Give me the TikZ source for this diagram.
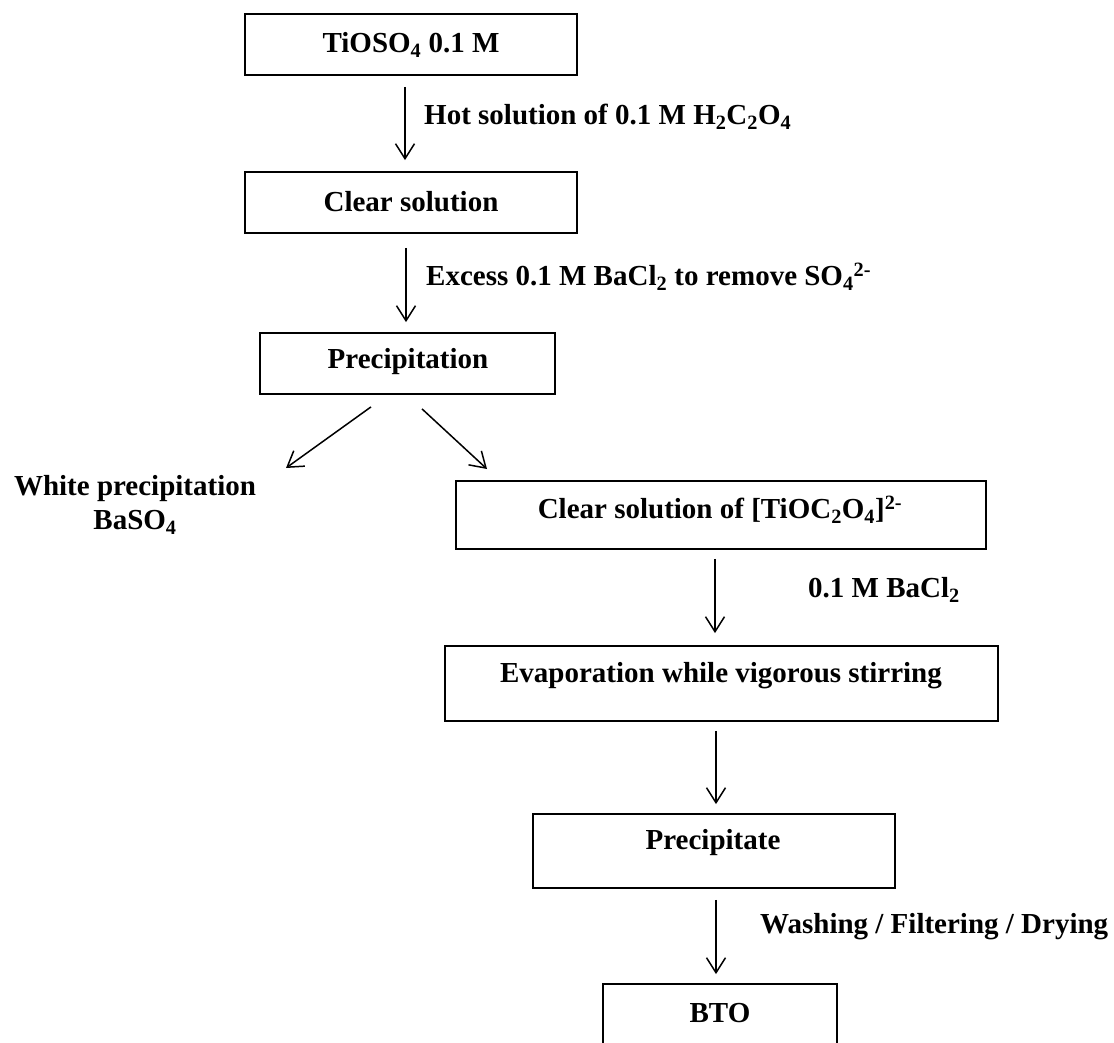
\documentclass[tikz,border=0pt]{standalone}
\usepackage{fontspec}
\setmainfont{Liberation Serif}
\usetikzlibrary{arrows.meta}
\begin{document}
\begin{tikzpicture}[x=1pt,y=-1pt,
  font=\fontsize{29}{34}\selectfont\bfseries,
  box/.style={draw, line width=1.8pt, inner sep=0pt},
  txt/.style={inner sep=0pt},
  flow/.style={line width=1.5pt, -{Straight Barb[length=15pt,width=19pt,line width=1.5pt]}}]
\useasboundingbox (0,0) rectangle (1114,1043);
\clip (0,0) rectangle (1114,1043);

% boxes
\node[box, minimum width=332, minimum height=61] (b1) at (411,44.5) {};
\node[txt] (t1) at (411,45) {TiOSO\textsubscript{4} 0.1 M};
\node[box, minimum width=332, minimum height=61] (b2) at (411,202.5) {};
\node[txt] (t2) at (411,202) {Clear solution};
\node[box, minimum width=295, minimum height=61] (b3) at (407.5,363.5) {};
\node[txt] (t3) at (408,362) {Precipitation};
\node[box, minimum width=530, minimum height=68] (b4) at (721,515) {};
\node[txt] (t4) at (720,510) {Clear solution of [TiOC\textsubscript{2}O\textsubscript{4}]\textsuperscript{2-}};
\node[box, minimum width=553, minimum height=75] (b5) at (721.5,683.5) {};
\node[txt] (t5) at (721,676) {Evaporation while vigorous stirring};
\node[box, minimum width=362, minimum height=74] (b6) at (714,851) {};
\node[txt] (t6) at (713,843) {Precipitate};
\node[box, minimum width=234, minimum height=74] (b7) at (720,1021) {};
\node[txt] (t7) at (720,1013) {BTO};

\node[txt, align=center] (wp) at (135,505) {White precipitation\\BaSO\textsubscript{4}};

% labels
\node[txt, anchor=west] (l1) at (424,117) {Hot solution of 0.1 M H\textsubscript{2}C\textsubscript{2}O\textsubscript{4}};
\node[txt, anchor=west] (l2) at (426,277) {Excess 0.1 M BaCl\textsubscript{2} to remove SO\textsubscript{4}\textsuperscript{2-}};
\node[txt, anchor=west] (l4) at (808,590) {0.1 M BaCl\textsubscript{2}};
\node[txt, anchor=west] (l6) at (760,927) {Washing / Filtering / Drying};

% arrow ends
\coordinate (wtip) at (286,468);
\coordinate (ctip) at (487,469);

% connectors
\draw[flow, shorten <=11pt, shorten >=11pt] ([xshift=-6pt]b1.south) -- ([xshift=-6pt]b2.north);
\draw[flow, shorten <=14pt, shorten >=10pt] ([xshift=-5pt]b2.south) -- ([xshift=-5pt]b2.south |- b3.north);
\draw[flow] ([shift={(-36.5,12)}]b3.south) -- (wtip);
\draw[flow] ([shift={(14.5,14)}]b3.south) -- (ctip);
\draw[flow, shorten <=9pt, shorten >=12pt] ([xshift=-6pt]b4.south) -- ([xshift=-6pt]b4.south |- b5.north);
\draw[flow, shorten <=9pt, shorten >=9pt] ([xshift=-5.5pt]b5.south) -- ([xshift=-5.5pt]b5.south |- b6.north);
\draw[flow, shorten <=11pt, shorten >=9pt] ([xshift=2pt]b6.south) -- ([xshift=2pt]b6.south |- b7.north);
\end{tikzpicture}
\end{document}
